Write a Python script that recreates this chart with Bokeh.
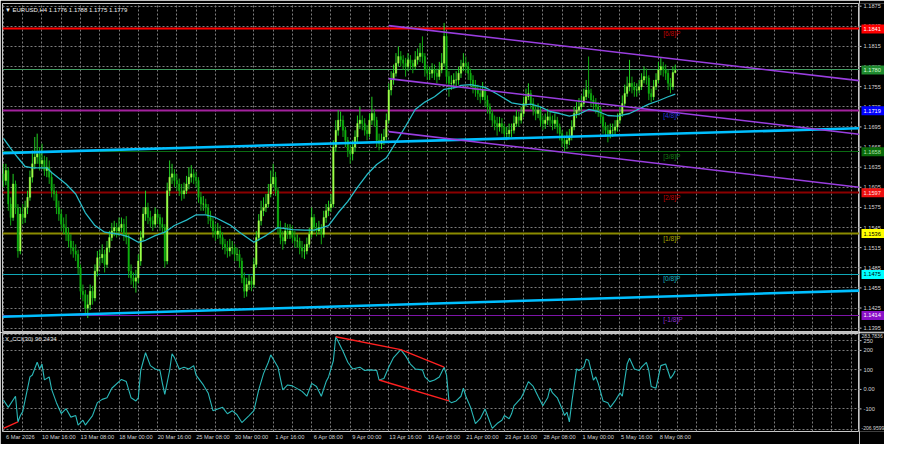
from bokeh.plotting import figure
from bokeh.models import Range1d, FixedTicker, ColumnDataSource
from bokeh.layouts import column, row
from bokeh.core.properties import value
from bokeh.embed import file_html
from bokeh.resources import INLINE

# ---------------- data ----------------
first_open = 1.1625
closes = [
    1.1615, 1.1630, 1.1580, 1.1560, 1.1610, 1.1575, 1.1510, 1.1565, 1.1560, 1.1575,
    1.1590, 1.1620, 1.1640, 1.1650, 1.1655, 1.1640, 1.1645, 1.1630, 1.1635, 1.1620,
    1.1600, 1.1595, 1.1575, 1.1565, 1.1550, 1.1545, 1.1535, 1.1525, 1.1515, 1.1510,
    1.1505, 1.1485, 1.1450, 1.1445, 1.1425, 1.1430, 1.1450, 1.1440, 1.1480, 1.1500,
    1.1500, 1.1505, 1.1490, 1.1515, 1.1530, 1.1540, 1.1545, 1.1540, 1.1545, 1.1550,
    1.1535, 1.1530, 1.1480, 1.1470, 1.1465, 1.1470, 1.1495, 1.1530, 1.1565, 1.1575,
    1.1560, 1.1555, 1.1550, 1.1565, 1.1560, 1.1550, 1.1545, 1.1495, 1.1600, 1.1620,
    1.1625, 1.1615, 1.1610, 1.1600, 1.1595, 1.1600, 1.1610, 1.1620, 1.1625, 1.1620,
    1.1615, 1.1590, 1.1580, 1.1580, 1.1575, 1.1560, 1.1555, 1.1540, 1.1535, 1.1540,
    1.1530, 1.1520, 1.1515, 1.1510, 1.1515, 1.1515, 1.1505, 1.1505, 1.1495, 1.1470,
    1.1450, 1.1460, 1.1465, 1.1460, 1.1490, 1.1530, 1.1555, 1.1570, 1.1575, 1.1580,
    1.1595, 1.1610, 1.1620, 1.1600, 1.1545, 1.1530, 1.1525, 1.1540, 1.1535, 1.1540,
    1.1530, 1.1525, 1.1525, 1.1515, 1.1510, 1.1510, 1.1520, 1.1535, 1.1560, 1.1545,
    1.1540, 1.1545, 1.1535, 1.1560, 1.1570, 1.1575, 1.1580, 1.1665, 1.1690, 1.1705,
    1.1705, 1.1690, 1.1675, 1.1660, 1.1655, 1.1665, 1.1680, 1.1700, 1.1705, 1.1700,
    1.1690, 1.1685, 1.1705, 1.1715, 1.1705, 1.1675, 1.1670, 1.1675, 1.1680, 1.1705,
    1.1750, 1.1765, 1.1775, 1.1790, 1.1800, 1.1795, 1.1790, 1.1785, 1.1795, 1.1790,
    1.1785, 1.1795, 1.1800, 1.1805, 1.1800, 1.1780, 1.1775, 1.1775, 1.1780, 1.1775,
    1.1770, 1.1780, 1.1790, 1.1830, 1.1770, 1.1760, 1.1760, 1.1765, 1.1765, 1.1775,
    1.1785, 1.1790, 1.1785, 1.1775, 1.1765, 1.1755, 1.1750, 1.1745, 1.1740, 1.1750,
    1.1735, 1.1725, 1.1715, 1.1705, 1.1700, 1.1695, 1.1700, 1.1695, 1.1685, 1.1685,
    1.1690, 1.1690, 1.1700, 1.1710, 1.1705, 1.1715, 1.1730, 1.1740, 1.1745, 1.1730,
    1.1720, 1.1715, 1.1720, 1.1705, 1.1700, 1.1705, 1.1710, 1.1705, 1.1700, 1.1705,
    1.1695, 1.1685, 1.1675, 1.1670, 1.1675, 1.1680, 1.1695, 1.1715, 1.1720, 1.1725,
    1.1730, 1.1740, 1.1750, 1.1745, 1.1735, 1.1730, 1.1725, 1.1720, 1.1710, 1.1695,
    1.1690, 1.1685, 1.1690, 1.1690, 1.1695, 1.1705, 1.1715, 1.1730, 1.1745, 1.1755,
    1.1760, 1.1755, 1.1750, 1.1750, 1.1755, 1.1765, 1.1770, 1.1768, 1.1745, 1.1740,
    1.1755, 1.1765, 1.1780, 1.1785, 1.1780, 1.1775, 1.1760, 1.1755, 1.1776, 1.1779,
]
highs = [
    1.1640, 1.1640, 1.1635, 1.1590, 1.1625, 1.1615, 1.1580, 1.1575, 1.1580, 1.1585,
    1.1600, 1.1630, 1.1660, 1.1680, 1.1685, 1.1665, 1.1670, 1.1652, 1.1650, 1.1645,
    1.1628, 1.1610, 1.1600, 1.1585, 1.1572, 1.1560, 1.1565, 1.1545, 1.1535, 1.1525,
    1.1520, 1.1512, 1.1490, 1.1460, 1.1452, 1.1445, 1.1460, 1.1458, 1.1490, 1.1510,
    1.1512, 1.1520, 1.1512, 1.1525, 1.1540, 1.1552, 1.1555, 1.1552, 1.1560, 1.1560,
    1.1558, 1.1562, 1.1535, 1.1490, 1.1478, 1.1482, 1.1505, 1.1540, 1.1575, 1.1600,
    1.1582, 1.1570, 1.1562, 1.1575, 1.1572, 1.1565, 1.1560, 1.1550, 1.1612, 1.1645,
    1.1640, 1.1632, 1.1625, 1.1618, 1.1610, 1.1612, 1.1622, 1.1635, 1.1638, 1.1632,
    1.1628, 1.1620, 1.1598, 1.1592, 1.1588, 1.1580, 1.1570, 1.1560, 1.1550, 1.1552,
    1.1548, 1.1538, 1.1528, 1.1525, 1.1528, 1.1525, 1.1520, 1.1515, 1.1512, 1.1500,
    1.1478, 1.1470, 1.1475, 1.1472, 1.1500, 1.1540, 1.1565, 1.1585, 1.1590, 1.1595,
    1.1610, 1.1630, 1.1640, 1.1628, 1.1605, 1.1555, 1.1540, 1.1552, 1.1550, 1.1550,
    1.1548, 1.1540, 1.1535, 1.1530, 1.1525, 1.1520, 1.1530, 1.1545, 1.1575, 1.1565,
    1.1552, 1.1555, 1.1550, 1.1570, 1.1580, 1.1585, 1.1595, 1.1675, 1.1705, 1.1720,
    1.1718, 1.1712, 1.1695, 1.1680, 1.1668, 1.1675, 1.1690, 1.1712, 1.1725, 1.1712,
    1.1708, 1.1698, 1.1715, 1.1740, 1.1722, 1.1710, 1.1685, 1.1685, 1.1692, 1.1715,
    1.1760, 1.1778, 1.1788, 1.1805, 1.1815, 1.1808, 1.1802, 1.1798, 1.1805, 1.1802,
    1.1795, 1.1808, 1.1812, 1.1820, 1.1830, 1.1805, 1.1788, 1.1785, 1.1790, 1.1788,
    1.1782, 1.1792, 1.1805, 1.1850, 1.1835, 1.1778, 1.1772, 1.1775, 1.1778, 1.1785,
    1.1795, 1.1805, 1.1800, 1.1792, 1.1782, 1.1772, 1.1765, 1.1758, 1.1755, 1.1762,
    1.1755, 1.1742, 1.1730, 1.1720, 1.1712, 1.1710, 1.1710, 1.1708, 1.1700, 1.1695,
    1.1700, 1.1700, 1.1712, 1.1720, 1.1718, 1.1725, 1.1740, 1.1752, 1.1760, 1.1750,
    1.1738, 1.1728, 1.1730, 1.1725, 1.1712, 1.1715, 1.1722, 1.1718, 1.1712, 1.1715,
    1.1710, 1.1700, 1.1690, 1.1682, 1.1688, 1.1692, 1.1705, 1.1725, 1.1732, 1.1738,
    1.1742, 1.1752, 1.1765, 1.1800, 1.1752, 1.1742, 1.1738, 1.1732, 1.1725, 1.1715,
    1.1702, 1.1698, 1.1700, 1.1700, 1.1705, 1.1715, 1.1725, 1.1742, 1.1758, 1.1770,
    1.1795, 1.1770, 1.1762, 1.1760, 1.1765, 1.1775, 1.1785, 1.1782, 1.1772, 1.1752,
    1.1765, 1.1775, 1.1792, 1.1798, 1.1792, 1.1788, 1.1780, 1.1768, 1.1785, 1.1788,
]
lows = [
    1.1605, 1.1608, 1.1570, 1.1548, 1.1555, 1.1565, 1.1500, 1.1505, 1.1550, 1.1552,
    1.1565, 1.1585, 1.1612, 1.1632, 1.1640, 1.1630, 1.1632, 1.1622, 1.1620, 1.1610,
    1.1590, 1.1585, 1.1565, 1.1555, 1.1540, 1.1535, 1.1525, 1.1515, 1.1505, 1.1500,
    1.1495, 1.1475, 1.1440, 1.1435, 1.1415, 1.1410, 1.1422, 1.1430, 1.1435, 1.1472,
    1.1488, 1.1492, 1.1478, 1.1485, 1.1508, 1.1525, 1.1532, 1.1530, 1.1532, 1.1538,
    1.1525, 1.1520, 1.1470, 1.1460, 1.1455, 1.1448, 1.1462, 1.1488, 1.1525, 1.1555,
    1.1550, 1.1545, 1.1540, 1.1545, 1.1550, 1.1540, 1.1535, 1.1485, 1.1490, 1.1592,
    1.1610, 1.1605, 1.1600, 1.1592, 1.1585, 1.1588, 1.1595, 1.1602, 1.1612, 1.1610,
    1.1605, 1.1582, 1.1570, 1.1570, 1.1565, 1.1550, 1.1545, 1.1530, 1.1525, 1.1528,
    1.1520, 1.1512, 1.1505, 1.1500, 1.1502, 1.1505, 1.1495, 1.1495, 1.1485, 1.1462,
    1.1440, 1.1442, 1.1452, 1.1450, 1.1455, 1.1485, 1.1525, 1.1548, 1.1562, 1.1568,
    1.1575, 1.1590, 1.1605, 1.1592, 1.1535, 1.1520, 1.1512, 1.1520, 1.1528, 1.1528,
    1.1522, 1.1515, 1.1515, 1.1505, 1.1500, 1.1498, 1.1505, 1.1515, 1.1530, 1.1538,
    1.1532, 1.1535, 1.1520, 1.1530, 1.1552, 1.1562, 1.1568, 1.1575, 1.1658, 1.1682,
    1.1695, 1.1680, 1.1665, 1.1650, 1.1640, 1.1645, 1.1658, 1.1672, 1.1692, 1.1690,
    1.1682, 1.1675, 1.1680, 1.1698, 1.1695, 1.1665, 1.1660, 1.1662, 1.1668, 1.1675,
    1.1700, 1.1742, 1.1758, 1.1770, 1.1785, 1.1785, 1.1780, 1.1770, 1.1778, 1.1780,
    1.1775, 1.1780, 1.1788, 1.1792, 1.1790, 1.1770, 1.1765, 1.1765, 1.1768, 1.1765,
    1.1760, 1.1765, 1.1775, 1.1785, 1.1760, 1.1740, 1.1750, 1.1752, 1.1755, 1.1758,
    1.1768, 1.1778, 1.1775, 1.1765, 1.1755, 1.1745, 1.1740, 1.1735, 1.1730, 1.1735,
    1.1725, 1.1715, 1.1705, 1.1695, 1.1690, 1.1682, 1.1688, 1.1685, 1.1675, 1.1675,
    1.1678, 1.1680, 1.1685, 1.1695, 1.1695, 1.1700, 1.1710, 1.1725, 1.1735, 1.1722,
    1.1712, 1.1705, 1.1708, 1.1695, 1.1690, 1.1692, 1.1698, 1.1695, 1.1690, 1.1692,
    1.1685, 1.1675, 1.1665, 1.1658, 1.1662, 1.1668, 1.1675, 1.1690, 1.1708, 1.1712,
    1.1718, 1.1725, 1.1735, 1.1738, 1.1725, 1.1720, 1.1715, 1.1710, 1.1700, 1.1685,
    1.1680, 1.1672, 1.1678, 1.1680, 1.1682, 1.1688, 1.1700, 1.1710, 1.1725, 1.1740,
    1.1748, 1.1745, 1.1740, 1.1740, 1.1745, 1.1750, 1.1760, 1.1758, 1.1735, 1.1732,
    1.1735, 1.1750, 1.1760, 1.1772, 1.1770, 1.1765, 1.1750, 1.1745, 1.1750, 1.1775,
]

ma_idx = [0, 3, 6, 9, 12, 18, 20, 26, 30, 34, 38, 42, 48, 52, 56, 59, 63, 67, 71, 76,
          80, 84, 88, 94, 98, 104, 109, 114, 120, 125, 129, 135, 139, 143, 147, 151, 155,
          159, 163, 167, 171, 175, 179, 183, 188, 190, 194, 200, 205, 211, 216, 219, 223,
          227, 231, 235, 239, 243, 247, 251, 255, 260, 264, 268, 272, 276, 279]
ma_vals = [1.1678, 1.1663, 1.1649, 1.1636, 1.1634, 1.1634, 1.1627, 1.1610, 1.1595, 1.1567,
           1.1548, 1.1538, 1.1535, 1.1531, 1.1523, 1.1526, 1.1533, 1.1538, 1.1548, 1.1556,
           1.1564, 1.1564, 1.1560, 1.1549, 1.1538, 1.1523, 1.1533, 1.1545, 1.1542, 1.1541,
           1.1541, 1.1548, 1.1567, 1.1584, 1.1605, 1.1624, 1.1639, 1.1649, 1.1672, 1.1696,
           1.1721, 1.1732, 1.1740, 1.1751, 1.1754, 1.1757, 1.1758, 1.1754, 1.1744, 1.1731,
           1.1728, 1.1729, 1.1725, 1.1718, 1.1715, 1.1711, 1.1714, 1.1721, 1.1718, 1.1712,
           1.1711, 1.1715, 1.1722, 1.1729, 1.1734, 1.1740, 1.1744]

cci_idx = [0, 2, 5, 6, 7, 8, 11, 12, 14, 15, 16, 17, 19, 20, 22, 24, 26, 28, 30, 31, 33, 34,
           37, 39, 41, 43, 45, 49, 51, 53, 55, 56, 57, 59, 61, 63, 65, 66, 67, 69, 70, 71,
           73, 75, 77, 79, 80, 83, 85, 87, 89, 91, 93, 95, 97, 99, 102, 104, 106, 108, 110,
           111, 114, 116, 118, 120, 124, 126, 128, 130, 132, 134, 135, 137, 138, 139, 141,
           143, 145, 148, 150, 152, 155, 156, 158, 160, 162, 165, 167, 169, 171, 174, 175,
           177, 179, 181, 183, 184, 185, 186, 188, 190, 191, 192, 194, 196, 198, 200, 201,
           203, 205, 207, 208, 210, 211, 212, 215, 216, 218, 220, 222, 224, 226, 227, 228,
           230, 232, 233, 234, 235, 236, 238, 239, 241, 242, 243, 245, 246, 247, 249, 251,
           252, 254, 256, 257, 258, 259, 260, 262, 264, 265, 267, 268, 269, 271, 272, 273,
           275, 277, 278, 279]
cci_vals = [-54, -92, -35, -167, -134, -114, 64, 74, 139, 105, 130, 49, 64, 0, -68, -124, -99,
            -142, -134, -183, -158, -183, -134, -68, -51, -43, 6, 51, 40, -43, -59, -43, 97,
            188, 122, 105, 97, 31, -26, 97, 183, 163, 105, 114, 105, 122, 73, 23, -18, -109,
            -100, -92, -125, -109, -130, -170, -134, -109, -2, 81, 139, 177, 114, -2, 23, 18,
            -10, -35, 31, 15, -35, 40, 64, 147, 270, 246, 196, 139, 105, 114, 97, 100, 97,
            48, 56, 114, 163, 204, 172, 130, 105, 100, 64, 40, 48, 64, 114, 73, -59, -68, -59,
            -35, 6, -35, -92, -175, -150, -100, -134, -200, -175, -158, -134, -150, -125,
            -84, -43, -18, 40, 15, -35, -84, -43, 6, -18, -43, -100, -134, -117, -167, -68,
            105, 97, 114, 155, 150, 48, 64, 31, -59, -68, -92, -59, -18, -35, 48, 130, 160,
            105, 97, 114, 139, 97, 15, 6, 64, 122, 130, 56, 73, 96.2434]

# divergence lines drawn on the CCI window (bar index, value)
cci_div_upper_x = [138, 165, 183]
cci_div_upper_y = [270, 204, 114]
cci_div_lower_x = [156, 185]
cci_div_lower_y = [48, -59]
cci_div_left_x = [0, 6]
cci_div_left_y = [-200, -167]

# Murray math levels
murray_levels = [1.1841, 1.1780, 1.1719, 1.1658, 1.1597, 1.1536, 1.1475, 1.1414]
murray_names = ["[6/8]P", "", "[4/8]P", "[3/8]P", "[2/8]P", "[1/8]P", "[0/8]P", "[-1/8]P"]
murray_tags = ["1.1841", "1.1780", "1.1719", "1.1658", "1.1597", "1.1536", "1.1475", "1.1414"]

# trend lines (bar index, price)
blue_x0 = [-0.4, -0.4]
blue_y0 = [1.1656, 1.1412]
blue_x1 = [355.5, 355.5]
blue_y1 = [1.1693, 1.1451]
chan_x0 = [160, 160, 160]
chan_y0 = [1.1846, 1.1767, 1.1688]
chan_x1 = [355.5, 355.5, 355.5]
chan_y1 = [1.1764, 1.1684, 1.1605]

price_ticks = [1.1395, 1.1425, 1.1455, 1.1485, 1.1515, 1.1545, 1.1575, 1.1605, 1.1635,
               1.1665, 1.1695, 1.1725, 1.1755, 1.1785, 1.1815, 1.1845, 1.1875]
price_tick_labels = ["1.1395", "1.1425", "1.1455", "1.1485", "1.1515", "1.1545", "1.1575",
                     "1.1605", "1.1635", "1.1665", "1.1695", "1.1725", "1.1755", "1.1785",
                     "1.1815", "1.1845", "1.1875"]
date_ticks = [0, 16, 32, 48, 64, 80, 96, 112, 128, 144, 160, 176, 192, 208, 224, 240, 256, 272]
date_labels = ["6 Mar 2026", "10 Mar 16:00", "13 Mar 08:00", "18 Mar 00:00", "20 Mar 16:00",
               "25 Mar 08:00", "30 Mar 00:00", "1 Apr 16:00", "6 Apr 08:00", "9 Apr 00:00",
               "13 Apr 16:00", "16 Apr 08:00", "21 Apr 00:00", "23 Apr 16:00", "28 Apr 08:00",
               "1 May 00:00", "5 May 16:00", "8 May 08:00"]
grid_ticks = list(range(0, 356, 8))
cci_ticks = [250, 200, 100, 0, -100]
cci_tick_labels = ["250", "200", "100", "0.00", "-100"]
cci_grid = [283.78, 250, 200, 100, 0, -100, -206.96]
cci_extreme_vals = [283.7836, -206.9599]
cci_extreme_labels = ["283.7836", "-206.9599"]

# ---------------- styling ----------------
FONT = "Liberation Sans"
FS = "5.7px"
TXT = "#d4d4d4"
X0, X1 = -0.4, 355.5
LABEL_SHIFT = 7          # MT4 prints the date to the right of its bar

murray_colors = ["#ff0000", "#3f9a5f", "#a3229e", "#0b6b12", "#8b0000", "#8b8b00", "#10a8b8", "#7d14a8"]
murray_widths = [2, 1, 2, 1, 2, 2, 1, 1]
name_colors = ["#c00000", "#3f9a5f", "#2838d8", "#148014", "#c00000", "#a8a800", "#18b0c0", "#9030d0"]
tag_fill = ["#ff0000", "#1f8a2f", "#0000ff", "#0a6a0a", "#ee1010", "#ffff00", "#00ffff", "#8a10c8"]
tag_text = ["#ffffff", "#d8ffd8", "#ffffff", "#b0e0b0", "#ffe0e0", "#000000", "#000000", "#ffffff"]


def black(fig):
    fig.background_fill_color = "black"
    fig.border_fill_color = "black"


def chart_style(fig):
    black(fig)
    fig.outline_line_color = "#c8c8c8"
    fig.outline_line_width = 1
    fig.grid.grid_line_color = "#7c7c7c"
    fig.grid.grid_line_dash = "2 2"
    fig.grid.grid_line_width = 1
    fig.yaxis.visible = False


def side_style(fig):
    black(fig)
    fig.outline_line_color = None
    fig.xaxis.visible = False
    fig.yaxis.visible = False
    fig.grid.visible = False


# ---------------- main price panel ----------------
xr = Range1d(X0, X1)
yr = Range1d(1.1390, 1.1879)
p = figure(width=859, height=332, x_range=xr, y_range=yr,
           output_backend="svg", toolbar_location=None, tools="",
           min_border_left=2, min_border_right=0, min_border_top=3, min_border_bottom=1)
chart_style(p)
p.xaxis.visible = False
p.xgrid.ticker = FixedTicker(ticks=grid_ticks)
p.ygrid.ticker = FixedTicker(ticks=price_ticks)

n = len(closes)
opens = [first_open] + closes[:-1]
bull = [c >= o for o, c in zip(opens, closes)]
src = ColumnDataSource(dict(
    x=list(range(n)), h=highs, l=lows,
    top=[max(o, c) for o, c in zip(opens, closes)],
    bot=[min(o, c) for o, c in zip(opens, closes)],
    body=["#9dff4a" if b else "#10b010" for b in bull],
    wick=["#22d022" if b else "#12a812" for b in bull],
))

p.hspan(y=murray_levels, line_color=murray_colors, line_width=murray_widths)
p.segment(x0="x", y0="l", x1="x", y1="h", source=src, line_color="wick", line_width=1)
p.vbar(x="x", width=0.62, top="top", bottom="bot", source=src,
       fill_color="body", line_color="body", line_width=0.4)
p.line(ma_idx, ma_vals, line_color="#27bcc8", line_width=1.3)
p.segment(x0=blue_x0, y0=blue_y0, x1=blue_x1, y1=blue_y1, line_color="#00bfff", line_width=2.6)
p.segment(x0=chan_x0, y0=chan_y0, x1=chan_x1, y1=chan_y1, line_color="#9a3ee0", line_width=1.6)

names_src = ColumnDataSource(dict(
    y=[lv for nm, lv in zip(murray_names, murray_levels) if nm],
    t=[nm for nm in murray_names if nm],
    c=[c for nm, c in zip(murray_names, name_colors) if nm],
))
p.text(x=274, y="y", text="t", text_color="c", source=names_src, text_font=value(FONT),
       text_font_size=value("6.6px"), text_baseline="top", text_align="left", y_offset=1)

p.text(x=[0.6], y=[1.18695], text=["\u25bc EURUSD,H4  1.1776 1.1788 1.1775 1.1779"],
       text_font=value(FONT), text_font_size=value("6px"), text_color="#f0f0f0",
       text_baseline="middle", text_align="left")

# price scale strip (right of the chart)
ps = figure(width=25, height=332, x_range=Range1d(0, 25), y_range=yr,
            output_backend="svg", toolbar_location=None, tools="",
            min_border_left=0, min_border_right=0, min_border_top=3, min_border_bottom=1)
side_style(ps)
ps.segment(x0=0, x1=2, y0=price_ticks, y1=price_ticks, line_color="#c8c8c8", line_width=1)
ps.text(x=4, y=price_ticks, text=price_tick_labels, text_color=TXT, text_font=value(FONT),
        text_font_size=value(FS), text_baseline="middle", text_align="left")
ps.rect(x=13.5, y=murray_levels, width=23, height=9, height_units="screen",
        fill_color=tag_fill, line_color=None)
ps.text(x=4, y=murray_levels, text=murray_tags, text_color=tag_text, text_font=value(FONT),
        text_font_size=value(FS), text_baseline="middle", text_align="left")

# ---------------- CCI panel ----------------
cy = Range1d(-215.8, 286.6)
q = figure(width=859, height=112, x_range=xr, y_range=cy,
           output_backend="svg", toolbar_location=None, tools="",
           min_border_left=2, min_border_right=0, min_border_top=1, min_border_bottom=13)
chart_style(q)
q.xgrid.ticker = FixedTicker(ticks=grid_ticks)
q.ygrid.ticker = FixedTicker(ticks=cci_grid)
xa = q.xaxis[0]
xa.ticker = FixedTicker(ticks=[t + LABEL_SHIFT for t in date_ticks])
xa.major_label_overrides = {t + LABEL_SHIFT: s for t, s in zip(date_ticks, date_labels)}
xa.axis_line_color = None
xa.major_tick_line_color = None
xa.major_tick_out = 1
xa.major_tick_in = 0
xa.minor_tick_line_color = None
xa.major_label_standoff = 1
xa.major_label_text_font = FONT
xa.major_label_text_font_size = FS
xa.major_label_text_color = TXT

q.line(cci_idx, cci_vals, line_color="#2ab8b8", line_width=1.1)
q.line(cci_div_upper_x, cci_div_upper_y, line_color="#ff2020", line_width=1.4)
q.line(cci_div_lower_x, cci_div_lower_y, line_color="#ff2020", line_width=1.4)
q.line(cci_div_left_x, cci_div_left_y, line_color="#ff2020", line_width=1.4)
q.text(x=[0.6], y=[257], text=["X_CCI(30) 96.2434"], text_font=value(FONT),
       text_font_size=value("6px"), text_color="#e0e0e0", text_baseline="middle", text_align="left")

qs = figure(width=25, height=112, x_range=Range1d(0, 25), y_range=cy,
            output_backend="svg", toolbar_location=None, tools="",
            min_border_left=0, min_border_right=0, min_border_top=1, min_border_bottom=13)
side_style(qs)
qs.segment(x0=0, x1=2, y0=cci_ticks, y1=cci_ticks, line_color="#c8c8c8", line_width=1)
qs.text(x=4, y=cci_ticks, text=cci_tick_labels, text_color=TXT, text_font=value(FONT),
        text_font_size=value(FS), text_baseline="middle", text_align="left")
qs.text(x=2, y=cci_extreme_vals, text=cci_extreme_labels, text_color=TXT, text_font=value(FONT),
        text_font_size=value("5.1px"), text_baseline=["top", "bottom"], text_align="left")

layout = column(row(p, ps, spacing=0), row(q, qs, spacing=0), spacing=0)
open("out.html", "w").write(file_html(layout, INLINE))
